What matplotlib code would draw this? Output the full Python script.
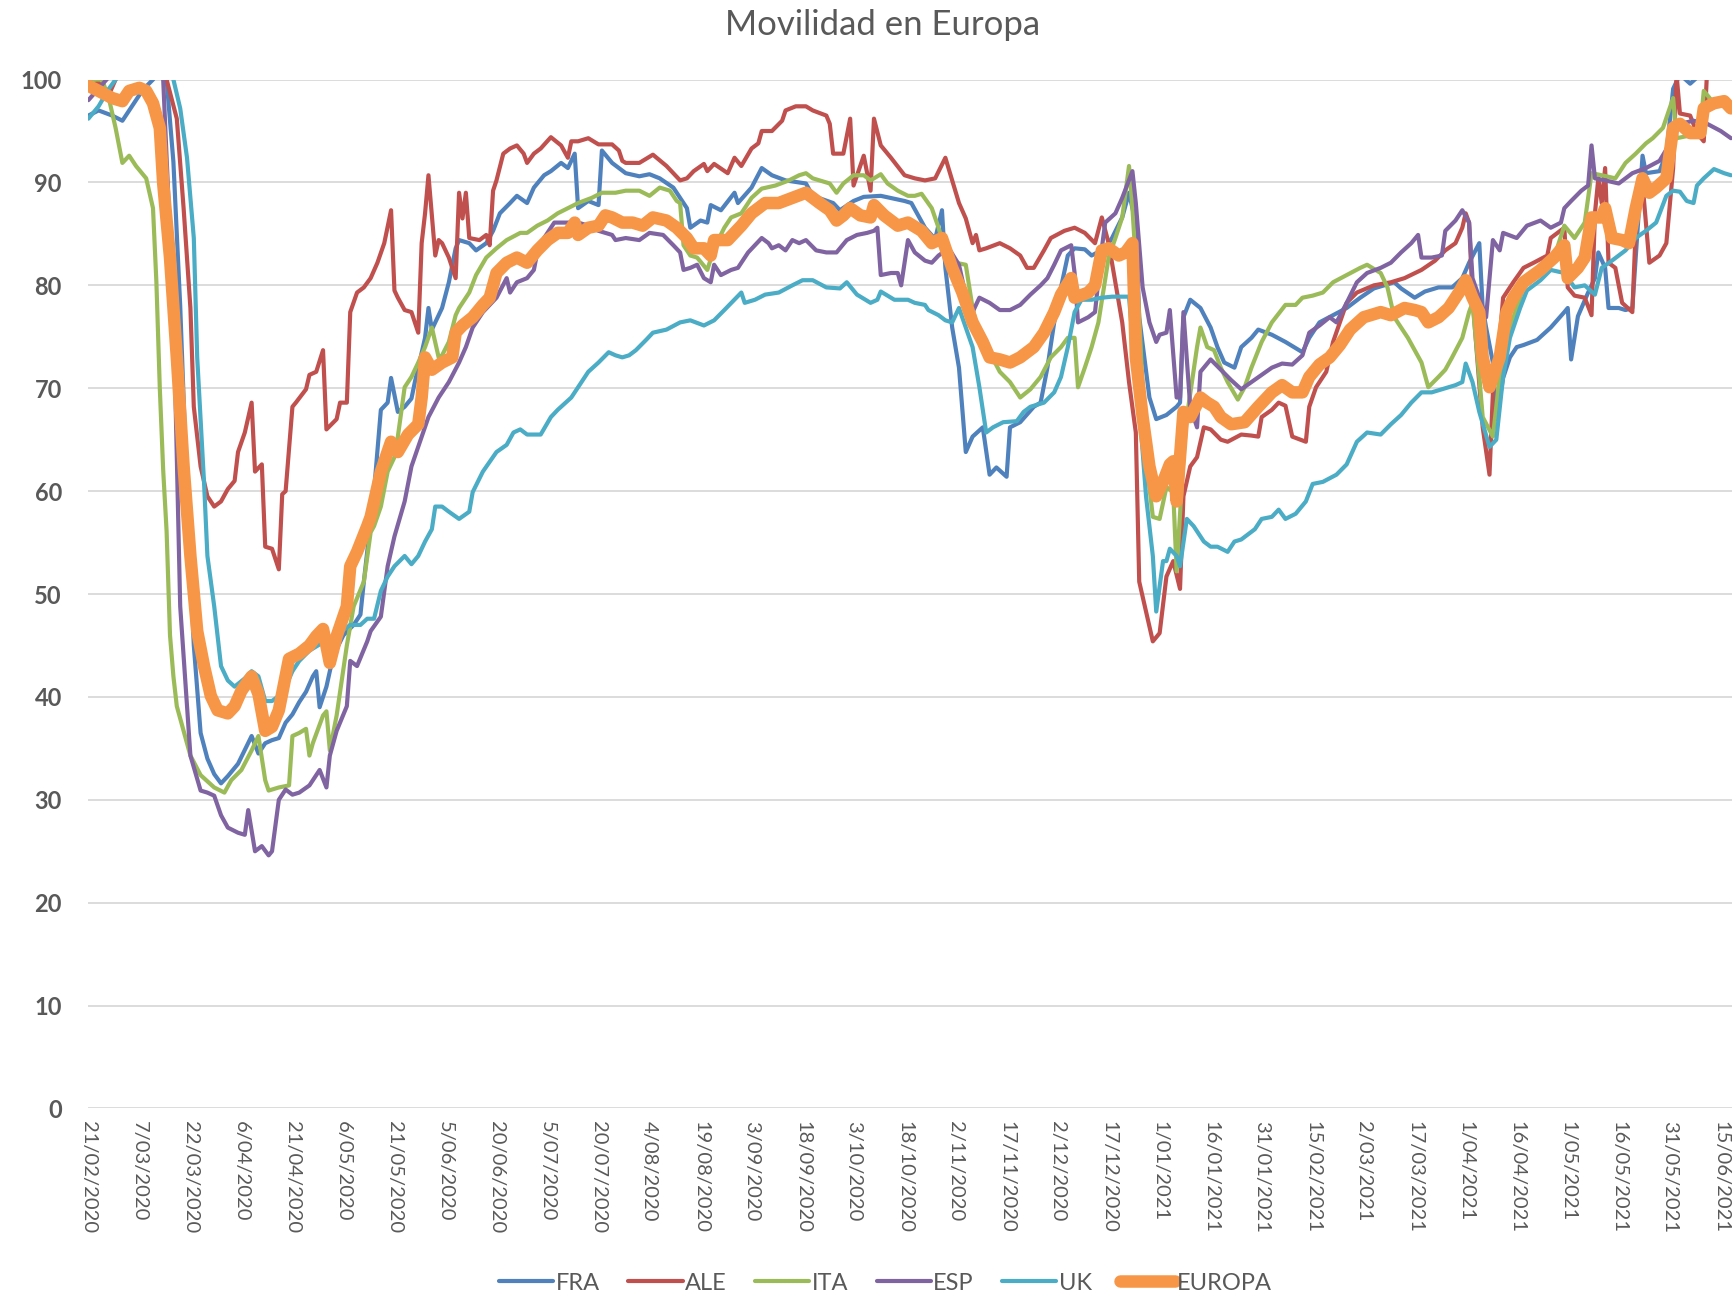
import matplotlib
matplotlib.use("Agg")
import matplotlib.pyplot as plt

plt.rcParams['font.family'] = ['Lato', 'DejaVu Sans']

# x = days since 21/02/2020
TICK_LABELS = ['21/02/2020', '7/03/2020', '22/03/2020', '6/04/2020', '21/04/2020', '6/05/2020',
               '21/05/2020', '5/06/2020', '20/06/2020', '5/07/2020', '20/07/2020', '4/08/2020',
               '19/08/2020', '3/09/2020', '18/09/2020', '3/10/2020', '18/10/2020', '2/11/2020',
               '17/11/2020', '2/12/2020', '17/12/2020', '1/01/2021', '16/01/2021', '31/01/2021',
               '15/02/2021', '2/03/2021', '17/03/2021', '1/04/2021', '16/04/2021', '1/05/2021',
               '16/05/2021', '31/05/2021', '15/06/2021']
TICK_DAYS = [15 * i for i in range(len(TICK_LABELS))]

FRA_DAY = [0, 3, 7, 10, 13, 16, 19, 21, 23, 25, 27, 29, 31, 33, 35, 37, 39, 41, 44, 48, 50, 52, 54, 56, 58, 60, 62, 64, 66, 67, 68, 70, 72, 75, 78, 80, 81, 84, 86, 88, 89, 91, 93, 95, 96, 97, 99, 100, 101, 104, 106, 108, 109, 112, 114, 117, 119, 121, 124, 126, 129, 131, 134, 136, 139, 141, 143, 144, 147, 150, 151, 154, 158, 162, 165, 168, 172, 175, 176, 177, 180, 182, 183, 186, 190, 191, 195, 198, 201, 205, 211, 213, 219, 221, 225, 228, 233, 240, 242, 246, 249, 251, 252, 254, 256, 258, 260, 263, 265, 267, 270, 271, 274, 278, 280, 282, 284, 286, 288, 290, 293, 295, 299, 301, 304, 306, 308, 309, 312, 314, 317, 320, 321, 322, 324, 327, 330, 332, 334, 337, 339, 342, 344, 348, 352, 357, 359, 362, 366, 370, 374, 378, 384, 386, 390, 393, 397, 401, 404, 406, 409, 410, 411, 413, 414, 416, 418, 420, 422, 426, 430, 434, 435, 436, 438, 441, 443, 444, 446, 447, 450, 452, 454, 455, 457, 458, 462, 464, 466, 468, 471, 474, 478, 483]
FRA_VAL = [96.5, 97, 96.5, 96, 97.5, 99, 100, 101, 100, 92, 78, 60, 45, 36.5, 34, 32.5, 31.6, 32.3, 33.5, 36.2, 34.5, 35.5, 35.8, 36, 37.5, 38.3, 39.5, 40.5, 42, 42.5, 39, 41, 44, 46, 47, 48, 51.2, 60, 67.9, 68.6, 71, 67.7, 68.2, 69, 70.6, 72, 74.9, 77.8, 75.7, 77.8, 80.3, 83.6, 84.4, 84.1, 83.4, 84.1, 85.3, 87, 88, 88.7, 88, 89.5, 90.7, 91.1, 91.9, 91.4, 92.8, 87.5, 88.2, 87.8, 93.1, 91.9, 90.9, 90.6, 90.8, 90.4, 89.5, 88, 87.5, 85.6, 86.3, 86.1, 87.8, 87.3, 89, 88, 89.5, 91.4, 90.7, 90.2, 89.9, 88.7, 88, 87.3, 88.2, 88.6, 88.7, 88.2, 88, 85.6, 84.5, 87.3, 81.7, 75.9, 72, 63.8, 65.3, 66.2, 61.6, 62.3, 61.4, 66.2, 66.7, 68.2, 68.6, 72, 76.4, 79.8, 82.9, 83.6, 83.5, 82.9, 83.6, 84.6, 86.6, 89, 86, 76.9, 69.1, 67, 67.4, 68.2, 68.6, 76.9, 78.6, 77.8, 75.9, 74, 72.5, 72, 74, 74.9, 75.7, 75.2, 74.5, 73.5, 74.9, 76.4, 77.1, 77.8, 78.8, 79.7, 80.3, 79.7, 78.8, 79.4, 79.8, 79.8, 80.7, 82.2, 84.1, 77.8, 75.9, 72.5, 67, 71, 73, 74, 74.2, 74.7, 75.9, 77.4, 77.8, 72.8, 77, 79.3, 80.7, 83.2, 81.7, 77.8, 77.8, 77.6, 77.8, 82.7, 92.6, 90.9, 91.1, 92.8, 99.1, 100.5, 99.6, 100.5, 101, 101]

ALE_DAY = [0, 3, 6, 8, 10, 15, 20, 23, 26, 28, 30, 31, 33, 35, 37, 39, 41, 42, 43, 44, 46, 48, 49, 51, 52, 54, 56, 57, 58, 60, 61, 64, 65, 67, 69, 70, 73, 74, 76, 77, 79, 81, 83, 85, 87, 89, 90, 91, 93, 95, 97, 98, 99, 100, 102, 103, 104, 106, 108, 109, 110, 111, 112, 115, 117, 118, 119, 120, 122, 124, 126, 128, 129, 131, 133, 136, 139, 141, 142, 144, 147, 150, 154, 156, 157, 158, 162, 166, 170, 174, 176, 178, 181, 182, 184, 188, 190, 192, 195, 197, 198, 201, 204, 205, 208, 211, 213, 217, 218, 219, 222, 224, 225, 228, 230, 231, 233, 236, 240, 243, 246, 249, 252, 254, 256, 258, 260, 261, 262, 264, 268, 271, 274, 276, 278, 281, 283, 287, 290, 293, 296, 298, 300, 303, 304, 306, 308, 309, 311, 313, 315, 317, 319, 321, 322, 324, 326, 328, 330, 333, 335, 339, 342, 344, 345, 348, 350, 352, 354, 358, 359, 361, 364, 366, 370, 373, 378, 383, 387, 392, 396, 399, 402, 404, 405, 406, 407, 410, 412, 413, 415, 416, 419, 422, 425, 429, 430, 434, 435, 437, 440, 442, 443, 444, 445, 446, 447, 449, 451, 454, 455, 457, 459, 462, 464, 466, 467, 468, 471, 473, 475, 476, 483]
ALE_VAL = [99.5, 99.7, 98.5, 100, 101.5, 102, 101.5, 100, 96.2, 87.5, 77.8, 68.2, 62.4, 59.5, 58.5, 59, 60.2, 60.6, 61, 63.8, 65.7, 68.6, 61.9, 62.6, 54.6, 54.4, 52.4, 59.7, 60, 68.2, 68.6, 69.9, 71.3, 71.6, 73.7, 66, 67, 68.6, 68.6, 77.4, 79.3, 79.8, 80.7, 82.2, 84.1, 87.3, 79.5, 78.8, 77.6, 77.4, 75.4, 84.1, 87, 90.7, 82.9, 84.4, 84.1, 82.7, 80.7, 89, 86.5, 89, 84.6, 84.4, 84.9, 83.9, 89.2, 90.2, 92.8, 93.3, 93.6, 92.8, 91.9, 92.8, 93.3, 94.4, 93.6, 92.4, 94, 94, 94.3, 93.7, 93.7, 93.1, 92.1, 91.9, 91.9, 92.7, 91.6, 90.2, 90.4, 91.1, 91.8, 91.1, 91.8, 90.9, 92.4, 91.6, 93.3, 93.8, 95, 95, 96, 97, 97.4, 97.4, 97, 96.5, 95.7, 92.8, 92.8, 96.2, 89.7, 92.6, 89.2, 96.2, 93.6, 92.4, 90.7, 90.4, 90.2, 90.4, 92.4, 90.2, 88, 86.5, 84.1, 84.9, 83.4, 83.6, 84.1, 83.6, 82.9, 81.7, 81.7, 83.4, 84.6, 85.3, 85.6, 85.1, 84.1, 86.6, 84.1, 78.3, 76.4, 70.6, 65.7, 51.2, 48.3, 45.4, 46.2, 51.7, 53.2, 50.5, 59.5, 62.4, 63.3, 66.2, 66, 65, 64.8, 65.5, 65.4, 65.3, 67.2, 67.9, 68.6, 68.3, 65.3, 64.8, 68.2, 70.1, 71.6, 74.5, 78.3, 79.3, 80, 80.3, 80.7, 81.5, 82.4, 83.4, 84.1, 85.6, 87, 86.1, 78.8, 66.2, 61.6, 69.6, 74.9, 78.8, 80.3, 81.7, 82.2, 82.9, 84.6, 85.6, 79.8, 79, 78.8, 77.1, 87, 90.4, 88, 91.4, 82.2, 81.7, 78.3, 77.4, 85.6, 89.9, 82.2, 82.9, 84.1, 91.4, 100.5, 96.7, 96.5, 94.8, 94, 101, 101]

ITA_DAY = [0, 2, 4, 6, 8, 10, 12, 14, 17, 19, 20, 21, 22, 23, 24, 25, 26, 28, 30, 33, 37, 40, 42, 45, 48, 50, 52, 53, 56, 59, 60, 62, 64, 65, 66, 69, 70, 71, 73, 76, 78, 81, 83, 84, 86, 88, 90, 91, 93, 95, 97, 99, 101, 103, 104, 106, 108, 109, 112, 114, 117, 120, 123, 127, 129, 132, 135, 138, 141, 144, 148, 151, 155, 158, 162, 165, 168, 171, 173, 174, 175, 177, 179, 182, 184, 187, 189, 192, 195, 198, 202, 206, 209, 211, 213, 218, 220, 222, 225, 228, 230, 233, 235, 238, 241, 243, 245, 248, 250, 252, 255, 258, 260, 262, 265, 268, 271, 274, 277, 280, 283, 286, 288, 290, 291, 293, 295, 297, 300, 302, 304, 306, 307, 309, 311, 313, 315, 317, 319, 320, 322, 323, 326, 327, 329, 331, 333, 335, 338, 340, 342, 345, 348, 352, 355, 357, 360, 363, 366, 370, 374, 376, 380, 382, 384, 388, 392, 394, 397, 399, 401, 404, 406, 407, 409, 410, 413, 415, 417, 422, 427, 431, 434, 437, 440, 442, 445, 449, 452, 455, 458, 460, 463, 466, 467, 470, 474, 475, 478, 481, 483]
ITA_VAL = [100, 100, 100, 98.2, 95.3, 91.9, 92.6, 91.6, 90.4, 87.5, 80.3, 70, 62, 56.1, 46, 42, 39.1, 36.7, 34.3, 32.4, 31.2, 30.7, 31.9, 32.9, 34.8, 36.2, 31.9, 30.9, 31.2, 31.4, 36.2, 36.5, 36.9, 34.3, 35.5, 38.2, 38.6, 34.8, 38.2, 45, 48.8, 51.2, 56, 56.6, 58.5, 61.9, 63.3, 65.3, 70.1, 71.1, 72.5, 74, 75.9, 73, 73.2, 74.5, 77.1, 77.8, 79.3, 81, 82.7, 83.6, 84.4, 85.1, 85.1, 85.8, 86.3, 87, 87.5, 88, 88.5, 89, 89, 89.2, 89.2, 88.7, 89.5, 89.2, 88.2, 88, 83.9, 82.9, 82.7, 81.5, 83.6, 85.6, 86.6, 87, 88.5, 89.4, 89.7, 90.2, 90.7, 90.9, 90.4, 89.9, 89, 89.9, 90.7, 90.7, 90.2, 90.8, 89.9, 89.2, 88.7, 88.7, 88.9, 87.5, 85.6, 83.2, 82.2, 82, 77.8, 74.9, 73.5, 71.6, 70.6, 69.1, 69.9, 71.1, 73, 74, 74.9, 74.9, 70.1, 72, 74, 76.4, 82.7, 84.6, 86.6, 91.6, 87.5, 76.9, 63.3, 57.5, 57.3, 60.4, 59.9, 52.2, 63.3, 67.2, 74, 75.9, 74, 73.7, 72, 70.6, 68.9, 70.1, 72, 74.5, 76.4, 78.1, 78.1, 78.8, 79, 79.3, 80.3, 81, 81.7, 82, 81.2, 79.8, 76.9, 74.9, 72.5, 70.1, 71.1, 71.8, 73, 74.9, 77.4, 78.3, 71.1, 67.2, 65.3, 71.1, 74.9, 79.8, 81.2, 82.7, 85.8, 84.6, 86.1, 90.9, 90.7, 90.4, 91.9, 92.8, 93.8, 94.3, 95.3, 98.2, 94.3, 94.5, 95.3, 98.9, 97.7, 97.4, 97]

ESP_DAY = [0, 4, 8, 15, 20, 22, 23, 25, 26, 27, 29, 30, 33, 35, 37, 39, 41, 44, 46, 47, 49, 51, 53, 54, 56, 58, 60, 62, 65, 68, 70, 71, 73, 76, 77, 79, 82, 83, 86, 88, 90, 93, 95, 98, 100, 103, 106, 109, 111, 113, 116, 120, 123, 124, 126, 129, 131, 132, 134, 137, 140, 144, 147, 150, 154, 155, 158, 162, 165, 169, 172, 174, 175, 177, 179, 181, 183, 184, 186, 189, 191, 194, 198, 200, 201, 203, 205, 207, 209, 211, 214, 217, 220, 223, 226, 229, 231, 232, 233, 236, 238, 239, 241, 243, 246, 248, 250, 253, 256, 258, 260, 262, 265, 268, 271, 274, 277, 280, 282, 284, 286, 289, 290, 291, 294, 296, 298, 299, 302, 304, 307, 308, 310, 312, 314, 315, 317, 318, 320, 321, 322, 324, 326, 327, 330, 333, 336, 339, 342, 345, 348, 351, 354, 357, 359, 362, 365, 367, 370, 373, 376, 380, 383, 386, 389, 391, 392, 395, 398, 399, 402, 404, 406, 407, 409, 411, 413, 415, 416, 420, 423, 427, 430, 433, 434, 436, 439, 441, 442, 443, 446, 450, 454, 458, 462, 466, 468, 472, 476, 480, 483]
ESP_VAL = [98, 99.5, 101, 101.5, 101, 100, 92.4, 77.8, 63.3, 48.8, 39.1, 34.3, 30.9, 30.7, 30.4, 28.5, 27.3, 26.8, 26.6, 29, 25, 25.5, 24.6, 25, 30, 31, 30.5, 30.7, 31.4, 32.9, 31.2, 34.3, 36.7, 39.1, 43.5, 43, 45.4, 46.4, 47.8, 52.7, 55.6, 59, 62.4, 65.3, 67.2, 69.1, 70.6, 72.5, 74, 75.9, 77.4, 78.8, 80.7, 79.3, 80.3, 80.7, 81.5, 83.2, 84.6, 86.1, 86.1, 86.1, 85.8, 85.3, 84.9, 84.4, 84.6, 84.4, 85.1, 84.9, 83.9, 83.2, 81.5, 81.7, 82, 80.7, 80.3, 82, 81, 81.5, 81.7, 83.2, 84.6, 84.1, 83.6, 83.9, 83.4, 84.4, 84.1, 84.4, 83.4, 83.2, 83.2, 84.4, 84.9, 85.1, 85.3, 85.6, 81, 81.2, 81.2, 80, 84.4, 83.2, 82.4, 82.2, 82.9, 83.6, 82, 79, 77.4, 78.8, 78.3, 77.6, 77.6, 78.1, 79.1, 80, 80.7, 82, 83.4, 83.9, 81.2, 76.4, 76.9, 77.4, 83.6, 86.1, 87, 88.5, 91.1, 88, 79.8, 76.4, 74.5, 75.2, 75.4, 77.6, 69.1, 69.1, 77.4, 68.2, 66.2, 71.6, 72.8, 71.8, 70.8, 69.9, 70.6, 71.3, 72, 72.4, 72.3, 73.2, 75.4, 76.1, 76.9, 76.4, 78.3, 80.3, 81.2, 81.7, 82.2, 83.2, 84.1, 84.9, 82.7, 82.7, 82.9, 85.3, 86.3, 87.3, 86.1, 80.7, 78.8, 76.9, 84.4, 83.4, 85.1, 84.6, 85.8, 86.3, 85.6, 86.1, 87.5, 88.2, 89.2, 89.7, 93.6, 90.4, 90.2, 89.9, 90.9, 91.4, 92.1, 94.3, 95.7, 96, 95.7, 95, 94.3]

UK_DAY = [0, 3, 6, 8, 10, 20, 24, 25, 27, 29, 31, 32, 34, 35, 37, 39, 41, 43, 46, 48, 50, 52, 54, 56, 58, 60, 62, 65, 70, 73, 77, 80, 82, 84, 86, 88, 90, 93, 95, 97, 99, 101, 102, 104, 106, 109, 112, 113, 116, 120, 123, 125, 127, 129, 133, 136, 138, 142, 144, 147, 150, 153, 155, 157, 159, 161, 164, 166, 170, 174, 177, 181, 184, 187, 192, 193, 196, 199, 203, 207, 210, 213, 217, 221, 223, 226, 230, 232, 233, 237, 241, 243, 246, 247, 250, 252, 254, 256, 260, 262, 264, 266, 269, 273, 275, 277, 281, 284, 286, 288, 290, 292, 295, 298, 301, 306, 307, 309, 311, 313, 314, 316, 317, 318, 320, 321, 323, 325, 328, 330, 332, 335, 337, 339, 341, 343, 345, 348, 350, 352, 355, 358, 360, 363, 367, 370, 373, 376, 380, 383, 386, 389, 392, 395, 398, 400, 402, 404, 405, 407, 409, 412, 414, 416, 418, 421, 423, 427, 430, 434, 437, 440, 443, 445, 448, 452, 455, 458, 461, 464, 466, 468, 470, 472, 473, 475, 478, 481, 483]
UK_VAL = [96.2, 97.4, 99.1, 100, 101.5, 102, 101, 100, 97.2, 92.4, 84.6, 73, 60.9, 53.7, 48.8, 43, 41.6, 41, 41.8, 42.5, 42, 39.6, 39.6, 40.1, 41, 42.5, 43.5, 44.5, 45.5, 46, 47, 47, 47.6, 47.6, 50.3, 51.7, 52.7, 53.7, 52.9, 53.7, 55.1, 56.3, 58.5, 58.5, 58, 57.3, 58, 59.9, 61.9, 63.8, 64.5, 65.7, 66, 65.5, 65.5, 67.2, 67.9, 69.1, 70.1, 71.6, 72.5, 73.5, 73.2, 73, 73.2, 73.7, 74.7, 75.4, 75.7, 76.4, 76.6, 76.1, 76.6, 77.6, 79.3, 78.3, 78.6, 79.1, 79.3, 80, 80.5, 80.5, 79.8, 79.7, 80.3, 79.1, 78.3, 78.6, 79.4, 78.6, 78.6, 78.3, 78.1, 77.6, 77.1, 76.6, 76.4, 77.8, 74, 70.1, 65.7, 66.2, 66.7, 66.8, 67.7, 68.2, 68.6, 69.6, 71.1, 74, 77.4, 78.6, 78.6, 78.8, 78.9, 78.9, 74.9, 68.2, 59.5, 53.7, 48.3, 53.2, 53.2, 54.4, 53.7, 52.7, 57.3, 56.6, 55.1, 54.6, 54.6, 54.1, 55.1, 55.3, 55.8, 56.3, 57.3, 57.5, 58.2, 57.3, 57.8, 59, 60.7, 60.9, 61.6, 62.6, 64.8, 65.7, 65.5, 66.5, 67.4, 68.6, 69.6, 69.6, 69.9, 70.1, 70.3, 70.6, 72.4, 70.6, 67.7, 64.3, 65, 71.1, 74.9, 77.8, 79.5, 80.5, 81.5, 81.2, 79.8, 80, 79.1, 81.7, 82.4, 83.4, 84.6, 85.3, 86.1, 88.7, 89.2, 89.1, 88.2, 88, 89.7, 90.4, 91.3, 90.9, 90.7]

EUR_DAY = [0, 3, 7, 10, 12, 15, 17, 19, 21, 22, 24, 26, 28, 30, 32, 34, 36, 38, 41, 43, 45, 48, 50, 52, 54, 56, 59, 62, 65, 67, 69, 71, 73, 76, 77, 79, 82, 83, 86, 89, 91, 94, 97, 98, 99, 101, 104, 107, 108, 110, 113, 116, 118, 120, 123, 126, 129, 132, 135, 138, 141, 143, 144, 147, 150, 152, 154, 157, 160, 163, 166, 170, 173, 176, 178, 181, 183, 184, 188, 192, 195, 199, 203, 207, 211, 215, 218, 220, 222, 224, 227, 230, 231, 234, 238, 241, 245, 248, 251, 254, 257, 260, 263, 265, 268, 271, 274, 278, 281, 284, 286, 289, 290, 294, 296, 298, 300, 303, 305, 307, 308, 310, 312, 314, 316, 318, 319, 320, 322, 324, 327, 329, 331, 333, 336, 340, 344, 348, 351, 354, 357, 359, 362, 365, 368, 371, 375, 380, 383, 387, 390, 392, 394, 397, 400, 403, 405, 407, 409, 410, 412, 413, 415, 417, 419, 422, 427, 431, 434, 435, 438, 440, 442, 445, 446, 448, 451, 453, 455, 457, 459, 461, 464, 466, 468, 471, 474, 475, 478, 481, 483]
EUR_VAL = [99.4, 98.9, 98.2, 97.9, 98.9, 99.2, 98.9, 97.7, 95.3, 89.9, 82.7, 73, 62.4, 53.7, 46.4, 43, 40.1, 38.7, 38.4, 39.1, 40.6, 42, 40.3, 36.7, 37.1, 38.7, 43.7, 44.2, 45, 45.9, 46.6, 43.3, 45.9, 48.8, 52.7, 54.1, 56.6, 57.5, 61.9, 64.8, 63.8, 65.5, 66.5, 69.1, 73, 71.8, 72.5, 73, 75.4, 76.1, 76.9, 78.1, 78.8, 81.2, 82.2, 82.7, 82.2, 83.4, 84.4, 85.1, 85.1, 86.1, 84.9, 85.6, 85.8, 86.8, 86.6, 86.1, 86.1, 85.8, 86.6, 86.3, 85.6, 84.6, 83.6, 83.6, 82.9, 84.4, 84.4, 85.8, 87, 88, 88, 88.5, 89, 88, 87.3, 86.3, 86.8, 87.5, 86.8, 86.6, 87.8, 86.8, 85.8, 86.1, 85.3, 84.1, 84.6, 81.7, 79.3, 76.4, 74.5, 73, 72.8, 72.5, 73, 74, 75.4, 77.4, 79.1, 80.7, 78.8, 79.3, 80, 83.4, 83.6, 82.9, 83.2, 84.1, 73, 67.2, 62.4, 59.5, 60.9, 62.6, 62.9, 59, 67.7, 67.2, 69.1, 68.6, 68.2, 67.2, 66.5, 66.7, 68.2, 69.6, 70.3, 69.6, 69.6, 71.1, 72.3, 73, 74.2, 75.7, 76.9, 77.4, 77.1, 77.8, 77.6, 77.4, 76.4, 76.9, 77.8, 79.3, 80.5, 78.8, 77.4, 73, 70.1, 71.1, 73, 77.4, 78.8, 80.3, 81.5, 82.7, 83.9, 80.7, 81.7, 82.7, 86.6, 86.6, 87.5, 84.6, 84.4, 84.1, 87.5, 90.4, 89, 89.5, 90.4, 95.3, 95.7, 94.8, 94.8, 97.2, 97.7, 97.9, 97.2]

SERIES = [
    ('FRA', FRA_DAY, FRA_VAL, '#4F81BD', 3.0),
    ('ALE', ALE_DAY, ALE_VAL, '#C0504D', 3.0),
    ('ITA', ITA_DAY, ITA_VAL, '#9BBB59', 3.0),
    ('ESP', ESP_DAY, ESP_VAL, '#8064A2', 3.0),
    ('UK', UK_DAY, UK_VAL, '#4BACC6', 3.0),
    ('EUROPA', EUR_DAY, EUR_VAL, '#F79646', 9.0),
]

fig = plt.figure(figsize=(17.33, 12.98), dpi=100)
ax = fig.add_axes([0.051, 0.146, 0.949, 0.7927])

for name, d, v, c, lw in SERIES:
    ax.plot(d, v, color=c, lw=lw, label=name, solid_joinstyle='round',
            solid_capstyle='round')

ax.set_xlim(0, 483.6)
ax.set_ylim(0, 100)
ax.set_yticks(range(0, 101, 10))
ax.set_xticks(TICK_DAYS)
ax.set_xticklabels(TICK_LABELS, rotation=-90, fontsize=14.5, color='#595959',
                   va='top', ha='center')
for lab in ax.get_yticklabels():
    lab.set_fontweight('bold')
ax.tick_params(axis='y', length=0, pad=19, labelsize=17, labelcolor='#595959')
ax.tick_params(axis='x', length=0, pad=9)
ax.grid(axis='y', color='#D9D9D9', lw=1.3)
ax.set_axisbelow(True)
for s in ax.spines.values():
    s.set_visible(False)

fig.suptitle('Movilidad en Europa', x=0.509, y=0.993, fontsize=25, color='#595959')

leg = fig.legend(loc='center', bbox_to_anchor=(0.511, 0.0115), ncol=6, frameon=False,
                 fontsize=17, handlelength=2.3, handletextpad=0.1, columnspacing=1.2)
for t in leg.get_texts():
    t.set_color('#595959')

fig.savefig('out.png', dpi=100)
